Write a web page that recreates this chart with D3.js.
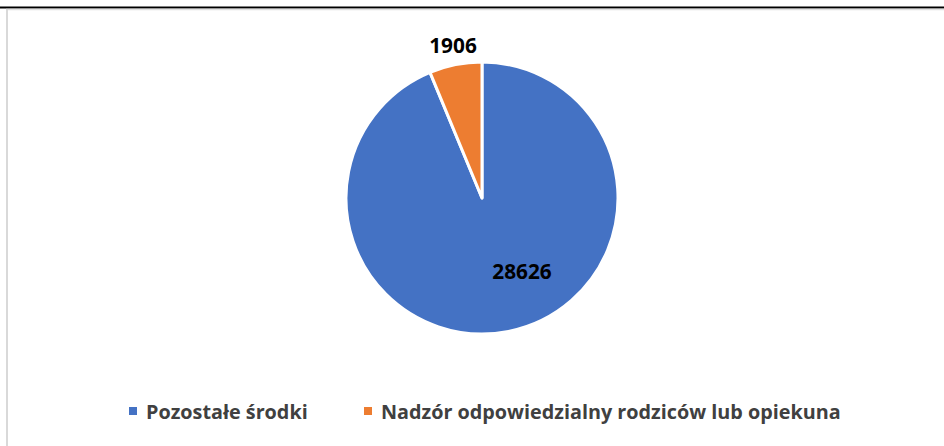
<!DOCTYPE html>
<html><head><meta charset="utf-8">
<script src="https://cdn.jsdelivr.net/npm/d3@7"></script>
<style>body{margin:0;background:#fff}svg{display:block}</style>
</head><body>
<svg id="c" width="944" height="446"></svg>
<script>
const categories = ["Pozostałe środki", "Nadzór odpowiedzialny rodziców lub opiekuna"];
const values = [28626, 1906];
const colors = ["#4472C4", "#ED7D31"];

const svg = d3.select("#c");
const font = "'Open Sans', 'Liberation Sans', sans-serif";

// frame lines
svg.append("line").attr("x1",0).attr("x2",944).attr("y1",7.5).attr("y2",7.5).attr("stroke","#000").attr("stroke-width",2);
svg.append("line").attr("x1",6).attr("x2",944).attr("y1",9.5).attr("y2",9.5).attr("stroke","#e0e0e0").attr("stroke-width",1.5);
svg.append("line").attr("x1",7).attr("x2",7).attr("y1",9).attr("y2",446).attr("stroke","#d9d9d9").attr("stroke-width",2);

const cx = 482, cy = 198, r = 136;
const pie = d3.pie().sort(null).value(d => d);
const arcs = pie(values);
const arc = d3.arc().innerRadius(0).outerRadius(r);
const g = svg.append("g").attr("transform", `translate(${cx},${cy})`);
g.selectAll("path").data(arcs).join("path")
  .attr("d", arc)
  .attr("fill", (d,i) => colors[i])
  .attr("stroke", "#fff").attr("stroke-width", 3).attr("stroke-linejoin","round");

// data labels
const labelPos = [[40, 81], [-29, -145]];
g.selectAll("text.lbl").data(arcs).join("text")
  .attr("class","lbl")
  .attr("x", (d,i) => labelPos[i][0]).attr("y", (d,i) => labelPos[i][1])
  .attr("text-anchor","middle")
  .attr("font-family", font).attr("font-weight","bold").attr("font-size", 20.8)
  .attr("fill","#000")
  .text(d => d.data);

// legend
const legX = [129, 364];
const lg = svg.append("g");
categories.forEach((c,i) => {
  lg.append("rect").attr("x", legX[i]).attr("y", 407).attr("width", 8).attr("height", 8).attr("fill", colors[i]);
  lg.append("text").attr("x", legX[i] + 17).attr("y", 418.5)
    .attr("font-family", font).attr("font-weight","bold").attr("font-size", 19.8)
    .attr("fill","#404040").text(c);
});
</script>
</body></html>
